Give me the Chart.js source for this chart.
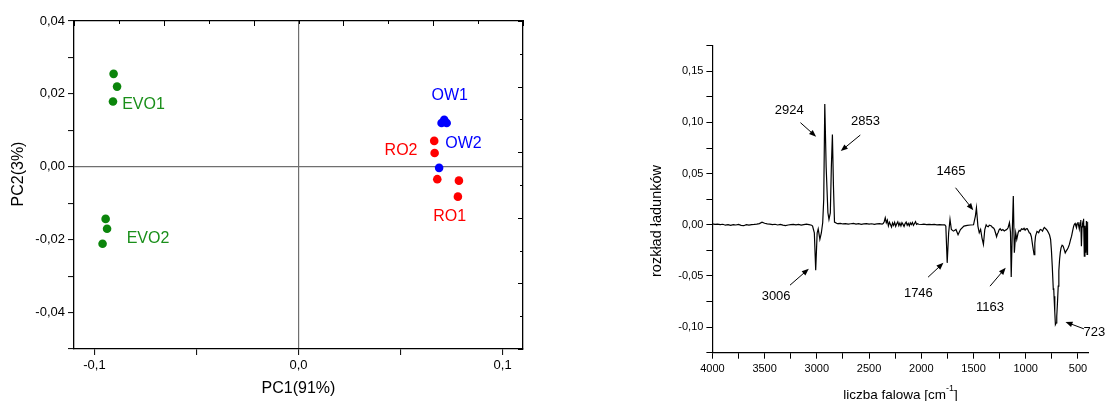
<!DOCTYPE html>
<html>
<head>
<meta charset="utf-8">
<script src="https://cdn.jsdelivr.net/npm/chart.js@4.4.1/dist/chart.umd.min.js"></script>
<style>
  html, body { margin: 0; padding: 0; background: #fff; }
  #wrap { position: relative; width: 1107px; height: 401px; overflow: hidden; }
  #pcaChart { position: absolute; left: 0; top: 0; }
  #loadChart { position: absolute; left: 560px; top: 0; }
</style>
</head>
<body>
<div id="wrap">
  <canvas id="pcaChart" width="560" height="401"></canvas>
  <canvas id="loadChart" width="547" height="401"></canvas>
</div>
<script>
// ---- PCA scores (PC1, PC2) ----
const evo1PC1 = [-0.0906, -0.0889, -0.0909];
const evo1PC2 = [0.0255, 0.0220, 0.0179];
const evo2PC1 = [-0.0945, -0.0938, -0.0960];
const evo2PC2 = [-0.0143, -0.0170, -0.0211];
const ow1PC1 = [0.0701, 0.0726, 0.0714];
const ow1PC2 = [0.0120, 0.0120, 0.0129];
const ow2PC1 = [0.0689];
const ow2PC2 = [-0.0003];
const ro2PC1 = [0.0665, 0.0667];
const ro2PC2 = [0.0071, 0.0038];
const ro1PC1 = [0.0680, 0.0786, 0.0781];
const ro1PC2 = [-0.0034, -0.0038, -0.0082];

const groupNames = ["EVO1", "EVO2", "OW1", "OW2", "RO2", "RO1"];
const labelPC1 = [-0.0864, -0.0842, 0.0741, 0.0719, 0.0583, 0.0741];
const labelPC2 = [0.0170, -0.0196, 0.0196, 0.0063, 0.0045, -0.0137];

// ---- loadings spectrum ----
const wavenumbers = [
  4000, 3975, 3950, 3925, 3900, 3875, 3850, 3825, 3800, 3775, 3750, 3725, 3700,
  3675, 3650, 3625, 3600, 3575, 3550, 3525, 3500, 3475, 3450, 3425, 3400, 3375,
  3350, 3325, 3300, 3275, 3250, 3225, 3200, 3175, 3150, 3125, 3100, 3075, 3050,
  3041, 3024, 3011, 2997, 2987, 2971, 2957, 2944, 2934, 2924, 2911, 2894, 2884,
  2871, 2861, 2851, 2841, 2831, 2807,
  2800, 2775, 2750, 2725, 2700, 2675, 2650, 2625, 2600, 2575, 2550, 2525, 2500,
  2475, 2450, 2425, 2400, 2375,
  2365, 2355, 2345, 2335, 2325, 2315, 2305, 2295, 2285, 2275, 2265, 2255, 2245,
  2235, 2225, 2215, 2205, 2195, 2185, 2175, 2165, 2155, 2145, 2135, 2125, 2115,
  2105, 2095, 2085, 2075, 2065, 2055, 2045, 2035,
  2025, 2000, 1975, 1950, 1925, 1900, 1875, 1850, 1825, 1800, 1775,
  1765, 1752, 1738, 1725, 1712, 1692, 1668, 1648, 1625, 1592, 1560, 1530, 1500,
  1482, 1472, 1458, 1445, 1432, 1419, 1405, 1392, 1379, 1369, 1359, 1349, 1339,
  1329, 1319, 1309, 1299, 1289, 1279, 1272, 1265, 1255, 1245, 1232, 1219, 1205,
  1192, 1180, 1169, 1156, 1146, 1139, 1129, 1119, 1109, 1096, 1086, 1073, 1063,
  1053, 1040, 1026, 1016, 1006, 996, 986, 976, 966, 956, 946, 933, 920, 913,
  906, 892, 884, 876, 867, 859, 849, 839, 830, 822, 812, 802, 792, 782, 772,
  762, 754, 746, 736, 732, 729, 722, 716, 709, 703, 696, 689, 683, 676, 669,
  662, 652, 642, 632, 622, 612, 602, 592, 582, 572, 561, 551, 541, 534, 527,
  520, 514, 507, 500, 493, 487, 480, 473, 467, 461, 456, 451, 446, 439, 433,
  426, 419, 413, 406
];
const loadings = [
  0.0008, 0.0004, 0.0006, 0.0001, 0.0005, -0.0004, 0.0002, -0.0006, 0.0001, -0.0002, 0.0003, -0.0005, -0.0009,
  0.0001, -0.0003, 0.0002, 0.0004, 0.0007, 0.0012, 0.0026, 0.0015, 0.0009, 0.0006, 0.0002, 0.0005, -0.0002,
  0.0003, -0.0004, -0.0008, -0.0002, 0.0001, 0.0004, -0.0001, 0.0003, -0.0003, 0.0002, 0.0006, 0.0001, -0.0004,
  -0.0013, -0.0078, -0.0443, -0.0080, -0.0040, -0.0143, -0.0080, 0.0020, 0.0250, 0.1180, 0.0570, 0.0117, 0.0052,
  0.0117, 0.0570, 0.0883, 0.0378, 0.0026, 0.0013,
  0.0011, 0.0014, 0.0008, 0.0012, 0.0006, 0.0010, 0.0013, 0.0007, 0.0011, 0.0005, 0.0009, 0.0012, 0.0006,
  0.0010, 0.0004, 0.0008, 0.0011, 0.0007,
  0.0012, 0.0030, 0.0068, 0.0020, 0.0045, -0.0010, 0.0025, 0.0002, -0.0022, 0.0018, -0.0006, 0.0024, -0.0015,
  0.0010, 0.0028, -0.0008, 0.0016, -0.0012, 0.0020, 0.0004, -0.0016, 0.0012, 0.0026, -0.0004, 0.0014, -0.0010,
  0.0018, 0.0002, 0.0022, -0.0006, 0.0012, 0.0030, 0.0004, 0.0010,
  0.0005, 0.0003, 0.0006, 0.0002, 0.0004, 0.0001, 0.0003, 0.0000, 0.0002, -0.0001, 0.0000,
  -0.0013, -0.0372, -0.0078, 0.0052, -0.0046, -0.0062, -0.0046, -0.0098, -0.0046, -0.0013, -0.0005, -0.0002, 0.0000,
  0.0085, 0.0166, -0.0013, -0.0078, -0.0046, -0.0127, -0.0192, -0.0046, 0.0000, -0.0015, -0.0020, -0.0004, -0.0007,
  -0.0012, -0.0026, -0.0030, -0.0046, -0.0080, -0.0117, -0.0090, -0.0078, -0.0050, -0.0039, -0.0055, -0.0046, -0.0060,
  -0.0052, -0.0045, -0.0029, 0.0020, -0.0070, -0.0509, -0.0078, 0.0280, -0.0274, -0.0078, -0.0143, -0.0078, -0.0055,
  -0.0062, -0.0040, -0.0046, -0.0035, -0.0052, -0.0040, -0.0038, -0.0055, -0.0078, -0.0085, -0.0117, -0.0209, -0.0293, -0.0180,
  -0.0111, -0.0065, -0.0070, -0.0078, -0.0055, -0.0046, -0.0050, -0.0062, -0.0040, -0.0026, -0.0035, -0.0046, -0.0060, -0.0078, -0.0100,
  -0.0143, -0.0250, -0.0404, -0.0632, -0.0620, -0.0698, -0.0850, -0.0975, -0.0960, -0.0893, -0.0760, -0.0600, -0.0450, -0.0339, -0.0270,
  -0.0225, -0.0200, -0.0209, -0.0240, -0.0274, -0.0255, -0.0241, -0.0220, -0.0192, -0.0150, -0.0111, -0.0060, -0.0013, 0.0005, 0.0013,
  -0.0010, -0.0029, 0.0010, 0.0026, -0.0010, -0.0040, 0.0020, 0.0046, -0.0209, -0.0020, 0.0010, 0.0035, 0.0059, -0.0306, -0.0010,
  -0.0274, 0.0036, -0.0290, 0.0030
];

// peak annotations (data coordinates)
const noteLabels = ["2924", "2853", "3006", "1746", "1465", "1163", "723"];
const noteTextX = [3264, 2534, 3390, 2028, 1715, 1342, 343];
const noteTextY = [0.1118, 0.1007, -0.0698, -0.0672, 0.0525, -0.0812, -0.1056];
const arrowFromX = [3157, 2584, 3257, 1935, 1672, 1342, 443];
const arrowFromY = [0.0998, 0.0877, -0.0590, -0.0512, 0.0362, -0.0600, -0.1017];
const arrowToX = [3007, 2771, 3077, 1788, 1502, 1192, 619];
const arrowToY = [0.0861, 0.0720, -0.0430, -0.0372, 0.0143, -0.0420, -0.0949];

const FONT = 'Arial, "Liberation Sans", sans-serif';
Chart.defaults.font.family = FONT;
Chart.defaults.color = "#000";

const GREEN = "#0b850b";
const BLUE = "#0000ff";
const RED = "#ff0000";
const labelColors = ["#1a8f1a", "#1a8f1a", BLUE, BLUE, RED, RED];

function toPoints(xs, ys) {
  return xs.map((v, i) => ({ x: v, y: ys[i] }));
}

// decimal comma, and no "-0,00"
function comma(v, digits) {
  if (Math.abs(v) < 1e-9) v = 0;
  return v.toFixed(digits).replace(".", ",");
}

function scatterSet(label, xs, ys, color) {
  return {
    label: label,
    data: toPoints(xs, ys),
    xAxisID: "x",
    yAxisID: "y",
    backgroundColor: color,
    borderWidth: 0,
    pointRadius: 4.3,
    pointHoverRadius: 4.3,
  };
}

const pcaExtras = {
  id: "pcaExtras",
  afterDatasetsDraw(chart) {
    const { ctx, chartArea, scales } = chart;
    ctx.save();
    // group names
    ctx.font = "16px " + FONT;
    ctx.textBaseline = "middle";
    const aligns = ["left", "left", "center", "left", "right", "center"];
    groupNames.forEach((name, i) => {
      ctx.fillStyle = labelColors[i];
      ctx.textAlign = aligns[i];
      ctx.fillText(name, scales.x.getPixelForValue(labelPC1[i]), scales.y.getPixelForValue(labelPC2[i]));
    });
    // inward ticks on top and right frame
    ctx.strokeStyle = "#000";
    ctx.lineWidth = 1;
    scales.x2.ticks.forEach((t, i) => {
      const px = Math.round(scales.x2.getPixelForValue(t.value)) + 0.5;
      const len = i % 2 === 0 ? 5 : 3;
      ctx.beginPath();
      ctx.moveTo(px, chartArea.top);
      ctx.lineTo(px, chartArea.top + len);
      ctx.stroke();
    });
    scales.y2.ticks.forEach((t, i) => {
      const py = Math.round(scales.y2.getPixelForValue(t.value)) + 0.5;
      const len = i % 2 === 0 ? 5 : 3;
      ctx.beginPath();
      ctx.moveTo(chartArea.right, py);
      ctx.lineTo(chartArea.right - len, py);
      ctx.stroke();
    });
    // y title
    ctx.fillStyle = "#000";
    ctx.font = "16px " + FONT;
    ctx.textAlign = "center";
    ctx.translate(chartArea.left - 55, chartArea.top + 153);
    ctx.rotate(-Math.PI / 2);
    ctx.fillText("PC2(3%)", 0, 0);
    ctx.restore();
  },
};

new Chart(document.getElementById("pcaChart"), {
  type: "scatter",
  data: {
    datasets: [
      scatterSet("EVO1", evo1PC1, evo1PC2, GREEN),
      scatterSet("EVO2", evo2PC1, evo2PC2, GREEN),
      scatterSet("OW1", ow1PC1, ow1PC2, BLUE),
      scatterSet("OW2", ow2PC1, ow2PC2, BLUE),
      scatterSet("RO2", ro2PC1, ro2PC2, RED),
      scatterSet("RO1", ro1PC1, ro1PC2, RED),
    ],
  },
  options: {
    responsive: false,
    animation: false,
    devicePixelRatio: 1,
    layout: { padding: 0 },
    plugins: { legend: { display: false }, tooltip: { enabled: false } },
    scales: {
      x: {
        type: "linear",
        position: "bottom",
        min: -0.11,
        max: 0.11,
        afterFit: (s) => { s.height = 52; },
        ticks: {
          stepSize: 0.05,
          includeBounds: false,
          autoSkip: false,
          maxRotation: 0,
          padding: 3,
          font: { size: 13 },
          callback: (v) => (Math.abs(Math.round(v * 100)) % 10 === 0 ? comma(v, 1) : ""),
        },
        grid: {
          color: (c) => (c.tick && c.tick.value === 0 ? "#6f6f6f" : "rgba(0,0,0,0)"),
          lineWidth: 1.2,
          tickColor: "#000",
          tickLength: 6,
          tickWidth: 1,
        },
        border: { color: "#000", width: 1.3 },
        title: { display: true, text: "PC1(91%)", font: { size: 16 }, padding: { top: 0, bottom: 2.4 } },
      },
      y: {
        type: "linear",
        position: "left",
        min: -0.05,
        max: 0.04,
        afterFit: (s) => { s.width = 74; },
        ticks: {
          stepSize: 0.01,
          autoSkip: false,
          padding: 3,
          font: { size: 13 },
          callback: (v) => (Math.abs(Math.round(v * 100)) % 2 === 0 ? comma(v, 2) : ""),
        },
        grid: {
          color: (c) => (c.tick && c.tick.value === 0 ? "#6f6f6f" : "rgba(0,0,0,0)"),
          lineWidth: 1.2,
          tickColor: "#000",
          tickLength: 6,
          tickWidth: 1,
        },
        border: { color: "#000", width: 1.3 },
      },
      x2: {
        type: "linear",
        position: "top",
        min: -0.11,
        max: 0.11,
        afterFit: (s) => { s.height = 21; },
        ticks: { display: false, stepSize: 0.022 },
        grid: { display: false },
        border: { color: "#000", width: 1.3 },
      },
      y2: {
        type: "linear",
        position: "right",
        min: -0.05,
        max: 0.04,
        afterFit: (s) => { s.width = 37; },
        ticks: { display: false, stepSize: 0.009 },
        grid: { display: false },
        border: { color: "#000", width: 1.3 },
      },
    },
  },
  plugins: [pcaExtras],
});

function drawArrow(ctx, x1, y1, x2, y2) {
  const ang = Math.atan2(y2 - y1, x2 - x1);
  const head = 7;
  const half = 2.8;
  ctx.beginPath();
  ctx.moveTo(x1, y1);
  ctx.lineTo(x2 - Math.cos(ang) * head * 0.7, y2 - Math.sin(ang) * head * 0.7);
  ctx.stroke();
  ctx.beginPath();
  ctx.moveTo(x2, y2);
  ctx.lineTo(x2 - head * Math.cos(ang) + half * Math.sin(ang), y2 - head * Math.sin(ang) - half * Math.cos(ang));
  ctx.lineTo(x2 - head * Math.cos(ang) - half * Math.sin(ang), y2 - head * Math.sin(ang) + half * Math.cos(ang));
  ctx.closePath();
  ctx.fill();
}

const loadExtras = {
  id: "loadExtras",
  afterDatasetsDraw(chart) {
    const { ctx, chartArea, scales: { x, y } } = chart;
    ctx.save();
    ctx.fillStyle = "#000";
    ctx.strokeStyle = "#000";
    ctx.lineWidth = 1;
    ctx.font = "13px " + FONT;
    ctx.textAlign = "center";
    ctx.textBaseline = "middle";
    noteLabels.forEach((txt, i) => {
      ctx.fillText(txt, x.getPixelForValue(noteTextX[i]), y.getPixelForValue(noteTextY[i]));
      drawArrow(
        ctx,
        x.getPixelForValue(arrowFromX[i]), y.getPixelForValue(arrowFromY[i]),
        x.getPixelForValue(arrowToX[i]), y.getPixelForValue(arrowToY[i])
      );
    });

    // x title with superscript
    const cx = (chartArea.left + chartArea.right) / 2;
    const ty = chartArea.bottom + 42.3;
    const main = "liczba falowa [cm";
    const sup = "-1";
    const tail = "]";
    ctx.font = "13.5px " + FONT;
    const wMain = ctx.measureText(main).width;
    const wTail = ctx.measureText(tail).width;
    ctx.font = "9px " + FONT;
    const wSup = ctx.measureText(sup).width;
    let sx = cx - (wMain + wSup + wTail) / 2;
    ctx.textAlign = "left";
    ctx.font = "13.5px " + FONT;
    ctx.fillText(main, sx, ty);
    sx += wMain;
    ctx.font = "9px " + FONT;
    ctx.fillText(sup, sx, ty - 6);
    sx += wSup;
    ctx.font = "13.5px " + FONT;
    ctx.fillText(tail, sx, ty);

    // y title
    ctx.font = "14.5px " + FONT;
    ctx.textAlign = "center";
    ctx.translate(chartArea.left - 55.8, chartArea.top + 175.3);
    ctx.rotate(-Math.PI / 2);
    ctx.fillText("rozkład ładunków", 0, 0);
    ctx.restore();
  },
};

new Chart(document.getElementById("loadChart"), {
  type: "line",
  data: {
    datasets: [
      {
        label: "loadings",
        data: toPoints(wavenumbers, loadings),
        borderColor: "#000",
        borderWidth: 1.2,
        pointRadius: 0,
        tension: 0,
        fill: false,
      },
    ],
  },
  options: {
    responsive: false,
    animation: false,
    devicePixelRatio: 1,
    layout: { padding: { top: 45.7, right: 18.6, left: 0, bottom: 0 } },
    plugins: { legend: { display: false }, tooltip: { enabled: false } },
    scales: {
      x: {
        type: "linear",
        reverse: true,
        min: 400,
        max: 4000,
        afterFit: (s) => { s.height = 48.3; },
        ticks: {
          stepSize: 250,
          includeBounds: false,
          autoSkip: false,
          maxRotation: 0,
          padding: 4,
          font: { size: 11 },
          callback: (v) => (v % 500 === 0 ? String(v) : ""),
        },
        grid: { drawOnChartArea: false, tickLength: 6, tickColor: "#000", tickWidth: 1 },
        border: { color: "#000", width: 1.2 },
      },
      y: {
        type: "linear",
        min: -0.125,
        max: 0.175,
        afterFit: (s) => { s.width = 152.4; },
        ticks: {
          stepSize: 0.025,
          autoSkip: false,
          padding: 3,
          font: { size: 11 },
          callback: (v) => (Math.round(v * 1000) % 50 === 0 ? comma(v, 2) : ""),
        },
        grid: { drawOnChartArea: false, tickLength: 6, tickColor: "#000", tickWidth: 1 },
        border: { color: "#000", width: 1.2 },
      },
    },
  },
  plugins: [loadExtras],
});
</script>
</body>
</html>
